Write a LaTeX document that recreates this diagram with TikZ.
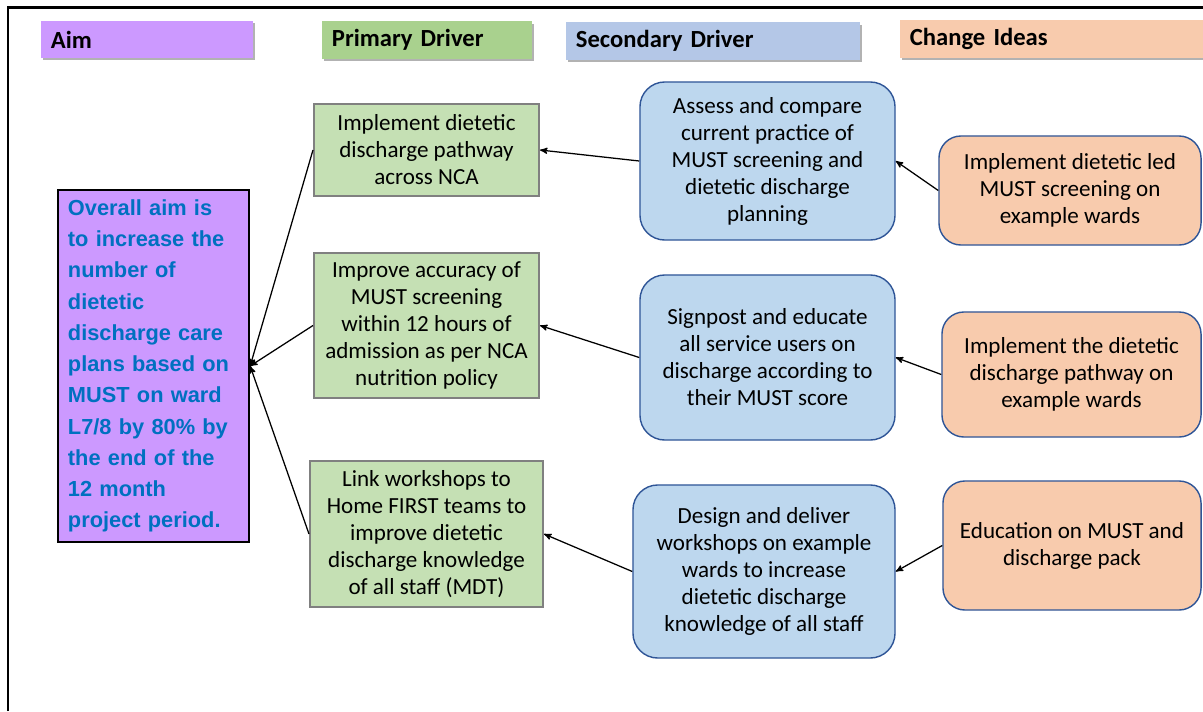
\documentclass[tikz,border=0pt]{standalone}
\usepackage{fontspec}
\setmainfont{Carlito}
\newfontfamily\aimfont{Liberation Sans}
\usepackage{tikz}
\usetikzlibrary{arrows}
\usetikzlibrary{positioning}
\usetikzlibrary{shadows}

\definecolor{aimviolet}{RGB}{204,153,255}
\definecolor{aimblue}{RGB}{0,112,192}
\definecolor{pdgreen}{RGB}{197,224,180}
\definecolor{pdhead}{RGB}{169,209,142}
\definecolor{sdblue}{RGB}{189,215,238}
\definecolor{sdhead}{RGB}{180,199,231}
\definecolor{ciorange}{RGB}{248,203,173}
\definecolor{edgeblue}{RGB}{47,85,151}
\definecolor{edgegrey}{RGB}{128,128,128}

\tikzset{
    arrow/.style={->,>=stealth', line width=0.9pt},
    headbox/.style = {
      rectangle,
      minimum height=0.925cm,
      inner xsep=0.25cm,
      align=left,
      font=\fontsize{17.5}{20}\selectfont\bfseries,
      drop shadow={shadow xshift=0.06cm, shadow yshift=-0.06cm, fill=black, opacity=0.3}
    },
    aimbox/.style = {
      rectangle,
      draw=black,
      line width=1.6pt,
      fill=aimviolet,
      align=left,
      text=aimblue,
      font=\aimfont\bfseries\fontsize{15.5}{22.2}\selectfont
    },
    primarybox/.style = {
      rectangle,
      draw=edgegrey,
      line width=1.4pt,
      fill=pdgreen,
      align=center,
      font=\fontsize{16.4}{19.2}\selectfont
    },
    secondarybox/.style = {
      rectangle,
      rounded corners=0.62cm,
      draw=edgeblue,
      line width=1pt,
      fill=sdblue,
      align=center,
      font=\fontsize{16.4}{19.2}\selectfont
    },
    changebox/.style = {
      rectangle,
      rounded corners=0.55cm,
      draw=edgeblue,
      line width=1pt,
      fill=ciorange,
      align=center,
      font=\fontsize{16.4}{19.2}\selectfont
    },
}

\begin{document}
\begin{tikzpicture}[x=0.025cm, y=-0.025cm]
  \useasboundingbox (0,0) rectangle (1203,711);
  \fill[white] (0,0) rectangle (1203,711);

  % page frame
  \draw[line width=1.6pt] (8,711) -- (8,7.5) -- (1210,7.5);

  % column headings
  \node[headbox, fill=aimviolet, text width=4.8cm] (aimhead) at (147,39.5) {Aim};
  \node[headbox, fill=pdhead, text width=4.75cm] (pdhead) at (427,40) {Primary Driver};
  \node[headbox, fill=sdhead, text width=6.85cm] (sdhead) at (713,41) {Secondary Driver};
  \node[headbox, fill=ciorange, text width=7.125cm] (cihead) at (1052.5,39) {Change Ideas};

  % aim
  \node[aimbox, minimum width=4.775cm, minimum height=8.8cm, text width=4.275cm] (aim) at (153.5,366)
    {Overall aim is\\to increase the\\number of\\dietetic\\discharge care\\plans based on\\MUST on ward\\L7/8 by 80\% by\\the end of the\\12 month\\project period.};

  % primary drivers
  \node[primarybox, minimum width=5.625cm, minimum height=2.3cm] (pd1) at (426.5,150)
    {Implement dietetic\\discharge pathway\\across NCA};
  \node[primarybox, minimum width=5.625cm, minimum height=3.625cm] (pd2) at (426.5,325.5)
    {Improve accuracy of\\MUST screening\\within 12 hours of\\admission as per NCA\\nutrition policy};
  \node[primarybox, minimum width=5.825cm, minimum height=3.65cm] (pd3) at (426.5,534)
    {Link workshops to\\Home FIRST teams to\\improve dietetic\\discharge knowledge\\of all staff (MDT)};

  % secondary drivers
  \node[secondarybox, minimum width=6.375cm, minimum height=3.95cm] (sd1) at (767.5,161)
    {Assess and compare\\current practice of\\MUST screening and\\dietetic discharge\\planning};
  \node[secondarybox, minimum width=6.375cm, minimum height=4.125cm] (sd2) at (767.5,357.5)
    {Signpost and educate\\all service users on\\discharge according to\\their MUST score};
  \node[secondarybox, minimum width=6.55cm, minimum height=4.325cm] (sd3) at (764,571.5)
    {Design and deliver\\workshops on example\\wards to increase\\dietetic discharge\\knowledge of all staff};

  % change ideas
  \node[changebox, minimum width=6.55cm, minimum height=2.725cm] (ci1) at (1070,190.5)
    {Implement dietetic led\\MUST screening on\\example wards};
  \node[changebox, minimum width=6.475cm, minimum height=3.125cm] (ci2) at (1071.5,374.5)
    {Implement the dietetic\\discharge pathway on\\example wards};
  \node[changebox, minimum width=6.45cm, minimum height=3.225cm] (ci3) at (1072,545.5)
    {Education on MUST and\\discharge pack};

  % links
  \draw[arrow] (pd1.west) -- (aim.east);
  \draw[arrow] (pd2.west) -- (aim.east);
  \draw[arrow] (pd3.west) -- (aim.east);

  \draw[arrow] (sd1.west) -- (pd1.east);
  \draw[arrow] (sd2.west) -- (pd2.east);
  \draw[arrow] (sd3.west) -- (pd3.east);

  \draw[arrow] (ci1.west) -- (sd1.east);
  \draw[arrow] (ci2.west) -- (sd2.east);
  \draw[arrow] (ci3.west) -- (sd3.east);
\end{tikzpicture}
\end{document}
